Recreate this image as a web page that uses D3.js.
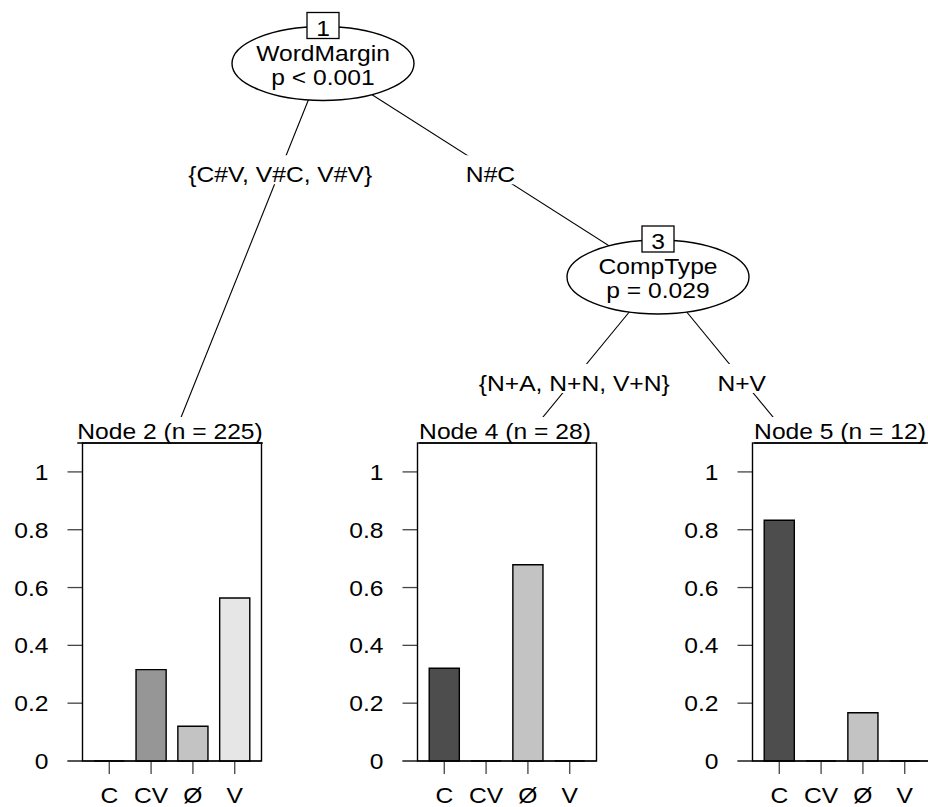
<!DOCTYPE html>
<html lang="en">
<head>
    <meta charset="UTF-8">
    <title>ctree WordMargin</title>
    <script src="https://d3js.org/d3.v7.min.js"></script>
    <style>
        body{ margin:0; background:#fff; }
        text{ font-family:"Liberation Sans", Arial, Helvetica, sans-serif; font-size:22px; fill:#000; }
    </style>
</head>
<body>
<svg id="tree" width="928" height="807"></svg>

<script>
    // category labels and bar fills (gray.colors(4))
    let categories = ["C", "CV", "\u00D8", "V"];
    let barColors = ["#4d4d4d", "#969696", "#c3c3c3", "#e6e6e6"];

    // class proportions per terminal node
    let node2Props = [0, 0.316, 0.12, 0.564];
    let node4Props = [0.321, 0, 0.679, 0];
    let node5Props = [0.833, 0, 0.167, 0];
    let yTicks = [0, 0.2, 0.4, 0.6, 0.8, 1];

    let innerNodes = [
        {id: 1, variable: "WordMargin", pval: "p < 0.001", pos: 1.5, depth: 0},
        {id: 3, variable: "CompType", pval: "p = 0.029", pos: 2.5, depth: 1}
    ];
    let terminalNodes = [
        {id: 2, n: 225, props: node2Props, pos: 1, depth: 2},
        {id: 4, n: 28, props: node4Props, pos: 2, depth: 2},
        {id: 5, n: 12, props: node5Props, pos: 3, depth: 2}
    ];
    let edges = [
        {from: 1, to: 2, label: "{C#V, V#C, V#V}"},
        {from: 1, to: 3, label: "N#C"},
        {from: 3, to: 4, label: "{N+A, N+N, V+N}"},
        {from: 3, to: 5, label: "N+V"}
    ];

    let SX = 1.12;   // text in the picture is a bit wide

    let svg = d3.select("#tree");
    let xTree = d3.scaleLinear().domain([1, 3]).range([155.5, 825.5]);
    let yTree = d3.scaleLinear().domain([0, 1, 2]).range([63.5, 277, 481]);

    let allNodes = {};
    innerNodes.concat(terminalNodes).forEach(function (d) {
        allNodes[d.id] = {x: xTree(d.pos), y: yTree(d.depth), depth: d.depth};
    });

    function txt(g, x, y, s, anchor) {
        return g.append("text")
            .attr("transform", "translate(" + x + "," + y + ") scale(" + SX + ",1)")
            .attr("text-anchor", anchor || "middle")
            .text(s);
    }

    // edges
    let edgeG = svg.append("g");
    edges.forEach(function (e) {
        let a = allNodes[e.from], b = allNodes[e.to];
        edgeG.append("line")
            .attr("x1", a.x).attr("y1", a.y)
            .attr("x2", b.x).attr("y2", b.y)
            .attr("stroke", "#000").attr("stroke-width", 1.1);
    });

    // edge labels (white box behind)
    edges.forEach(function (e) {
        let a = allNodes[e.from], b = allNodes[e.to];
        let ym = (a.y + yTree(a.depth + 1)) / 2;
        let t = (ym - a.y) / (b.y - a.y);
        let xm = a.x + t * (b.x - a.x);
        let base = ym + 12;
        let g = svg.append("g");
        let rect = g.append("rect").attr("fill", "#fff");
        let tx = txt(g, xm, base, e.label);
        let w = tx.node().getComputedTextLength() * SX + 6;
        rect.attr("x", xm - w / 2).attr("y", base - 27).attr("width", w).attr("height", 29);
    });

    // inner nodes
    innerNodes.forEach(function (d) {
        let c = allNodes[d.id];
        let rx = 91, ry = 37;
        let g = svg.append("g");
        g.append("ellipse")
            .attr("cx", c.x).attr("cy", c.y)
            .attr("rx", rx).attr("ry", ry)
            .attr("fill", "#fff").attr("stroke", "#000").attr("stroke-width", 1.4);
        txt(g, c.x, c.y - 3, d.variable);
        txt(g, c.x, c.y + 21, d.pval);
        let bw = 32, bh = 26;
        let by = c.y - ry - 1 - bh / 2;
        g.append("rect")
            .attr("x", c.x - bw / 2).attr("y", by)
            .attr("width", bw).attr("height", bh)
            .attr("fill", "#fff").attr("stroke", "#000").attr("stroke-width", 1.3);
        txt(g, c.x, by + bh - 3, d.id);
    });

    // terminal nodes: bar plots
    terminalNodes.forEach(function (d) {
        let c = allNodes[d.id];
        let left = c.x - 73, right = c.x + 106;
        let top = 443, bottom = 761;
        let g = svg.append("g");

        g.append("rect")
            .attr("x", c.x - 165).attr("y", 417)
            .attr("width", 330).attr("height", 807 - 417)
            .attr("fill", "#fff");

        let x = d3.scaleBand().domain(categories).range([left, right])
            .paddingInner(0.28).paddingOuter(0.28);
        let y = d3.scaleLinear().domain([0, 1.1]).range([bottom, top]);

        // title with underline
        let tcx = (left + right) / 2 - 2;
        let title = txt(g, tcx, 439, "Node " + d.id + " (n = " + d.n + ")");
        let tw = title.node().getComputedTextLength() * SX;
        g.append("line")
            .attr("x1", tcx - tw / 2).attr("x2", tcx + tw / 2)
            .attr("y1", 443).attr("y2", 443)
            .attr("stroke", "#000").attr("stroke-width", 1.3);

        // y axis
        yTicks.forEach(function (v) {
            g.append("line")
                .attr("x1", left - 15).attr("x2", left)
                .attr("y1", y(v)).attr("y2", y(v))
                .attr("stroke", "#444").attr("stroke-width", 1.3);
            txt(g, left - 34, y(v) + 8, d3.format("~g")(v), "end");
        });

        // baseline
        g.append("line")
            .attr("x1", left - 15).attr("x2", right)
            .attr("y1", y(0)).attr("y2", y(0))
            .attr("stroke", "#444").attr("stroke-width", 1.3);

        // x ticks and labels
        categories.forEach(function (k) {
            let cx = x(k) + x.bandwidth() / 2;
            g.append("line")
                .attr("x1", cx).attr("x2", cx)
                .attr("y1", y(0)).attr("y2", y(0) + 13)
                .attr("stroke", "#444").attr("stroke-width", 1.3);
            txt(g, cx, 803, k);
        });

        // bars (paths so zero-height bars still show their outline)
        d.props.forEach(function (p, i) {
            let k = categories[i];
            let x0 = x(k), x1 = x(k) + x.bandwidth();
            let p0 = d3.path();
            p0.moveTo(x0, y(0));
            p0.lineTo(x0, y(p));
            p0.lineTo(x1, y(p));
            p0.lineTo(x1, y(0));
            p0.closePath();
            g.append("path")
                .attr("d", p0.toString())
                .attr("fill", barColors[i])
                .attr("stroke", "#000").attr("stroke-width", 1.4);
        });

        // frame
        g.append("rect")
            .attr("x", left).attr("y", top)
            .attr("width", right - left).attr("height", bottom - top)
            .attr("fill", "none").attr("stroke", "#000").attr("stroke-width", 1.4);
    });
</script>
</body>
</html>
